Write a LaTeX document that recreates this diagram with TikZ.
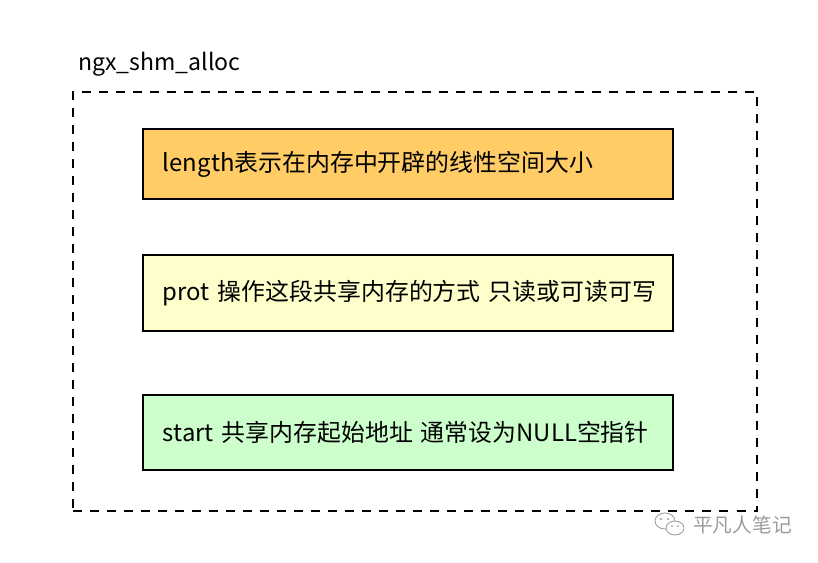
\documentclass[tikz,border=0pt]{standalone}
\usepackage{fontspec}
\setmainfont{Noto Sans CJK SC}
\usepackage{xcolor}
\usetikzlibrary{positioning}

\definecolor{boxorange}{HTML}{FFCC66}
\definecolor{boxyellow}{HTML}{FFFFCC}
\definecolor{boxgreen}{HTML}{CCFFCC}
\definecolor{markgray}{HTML}{9A9A9A}

\begin{document}
\begin{tikzpicture}[
    x=0.025cm, y=-0.025cm,
    % Parameter boxes
    param/.style={
        rectangle, draw=black, line width=1.3pt,
        minimum width=13.25cm, text width=12.45cm, inner xsep=0.4cm,
        align=left, font=\fontsize{17}{20}\selectfont
    },
    % Dashed frame round the call
    frame/.style={
        rectangle, draw=black, line width=1.3pt,
        dash pattern=on 6.4pt off 5.7pt,
        minimum width=17.1cm, minimum height=10.475cm
    },
    % Function name
    title/.style={
        font=\fontsize{16.4}{19}\selectfont, inner sep=0pt
    },
    % Watermark
    wmark/.style={
        font=\fontsize{14}{16}\selectfont, text=markgray, inner sep=0pt
    },
]

\useasboundingbox (0,0) rectangle (818,562);

% Frame and its title
\node[frame] (frame) at (415,301.5) {};
\node[title, anchor=base west] (name) at (78,70) {ngx\_shm\_alloc};

% Parameters
\node[param, fill=boxorange, minimum height=1.75cm] (length) at (408,164)
    {\hspace*{0.1cm}length表示在内存中开辟的线性空间大小};
\node[param, fill=boxyellow, minimum height=1.9cm] (prot) at (408,293)
    {\hspace*{0.1cm}prot 操作这段共享内存的方式 只读或可读可写};
\node[param, fill=boxgreen, minimum height=1.875cm] (start) at (408,432.5)
    {\hspace*{0.1cm}start 共享内存起始地址 通常设为NULL空指针};

% Watermark
\node[wmark, anchor=west] (author) at (693,525) {平凡人笔记};
\draw[markgray, line width=0.6pt] (665,521) ellipse (10 and 8);
\draw[markgray, line width=0.6pt, fill=white] (675,528) ellipse (9 and 7);
\fill[markgray] (661,519) circle (1.2) (668,519) circle (1.2)
    (672,526) circle (1) (678,526) circle (1);

\end{tikzpicture}
\end{document}
